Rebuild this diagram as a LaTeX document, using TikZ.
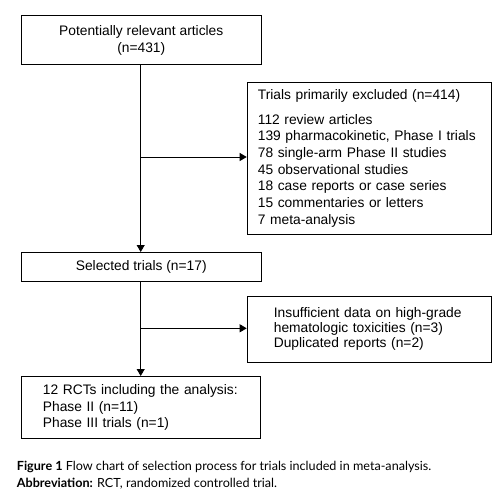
\documentclass[tikz,border=0pt]{standalone}
\usepackage{fontspec}
\setmainfont{Liberation Sans}
\newfontfamily\capfont{Lato}
\usetikzlibrary{arrows.meta,positioning}

\begin{document}
\begin{tikzpicture}[
  x=1pt, y=-1pt,
  font=\fontsize{13.8}{16.7}\selectfont,
  box/.style={draw=black, line width=1.1pt, minimum width=#1, inner sep=0pt, anchor=north west},
  arrow/.style={-{Triangle[length=7pt,width=8pt]}, line width=.9pt, draw=black}
]
\useasboundingbox (0,0) rectangle (500,497);
\node[box=240pt, minimum height=48.7pt, align=center] (found) at (20.7,15.3) {Potentially relevant articles\\(n=431)};
\node[box=244pt, minimum height=152.3pt, align=left, text width=222.8pt, inner xsep=10.6pt] (excluded) at (246.7,81.7) {Trials primarily excluded (n=414)\\[7.6pt]112 review articles\\139 pharmacokinetic, Phase I trials\\78 single-arm Phase II studies\\45 observational studies\\18 case reports or case series\\15 commentaries or letters\\7 meta-analysis};
\node[box=240pt, minimum height=28.5pt, align=center] (selected) at (20.7,252) {Selected trials (n=17)};
\node[box=244pt, minimum height=66pt, align=left, text width=190.8pt, inner xsep=26.6pt, font=\fontsize{13.8}{15}\selectfont] (insufficient) at (246.7,295.7) {Insufficient data on high-grade\\hematologic toxicities (n=3)\\Duplicated reports (n=2)};
\node[box=239.3pt, minimum height=62.3pt, align=left, text width=196pt, inner xsep=21.6pt, font=\fontsize{13.8}{16.3}\selectfont] (included) at (20.7,376) {12 RCTs including the analysis:\\Phase II (n=11)\\Phase III trials (n=1)};
\coordinate (split1) at (140.7,157);
\coordinate (split2) at (140.7,328.3);
\draw[arrow] (found.south -| split1) -- (selected.north -| split1);
\draw[arrow] (split1) -- (split1 -| excluded.west);
\draw[arrow] (selected.south -| split2) -- (included.north -| split2);
\draw[arrow] (split2) -- (split2 -| insufficient.west);
\node[anchor=north west, align=left, inner sep=0pt, font=\capfont\fontsize{12.6}{16.5}\selectfont] (caption) at (16.7,461) {\textbf{Figure 1} Flow chart of selection process for trials included in meta-analysis.\\\textbf{Abbreviation:} RCT, randomized controlled trial.};
\end{tikzpicture}
\end{document}
